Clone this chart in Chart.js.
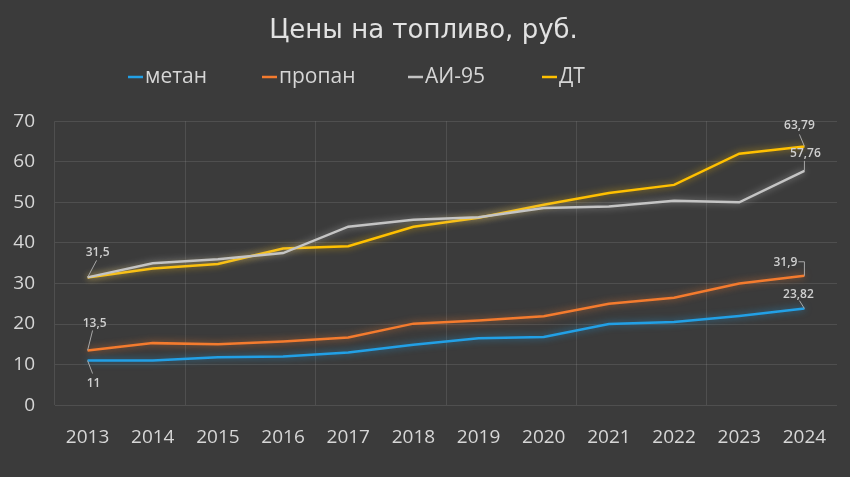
<!DOCTYPE html>
<html>
<head>
<meta charset="utf-8">
<script src="https://cdn.jsdelivr.net/npm/chart.js@4"></script>
<style>
  html, body { margin: 0; padding: 0; background: #3b3b3b; }
  #wrap { width: 850px; height: 477px; }
</style>
</head>
<body>
<div id="wrap"><canvas id="fuelChart"></canvas></div>
<script>
const years = ['2013', '2014', '2015', '2016', '2017', '2018', '2019', '2020', '2021', '2022', '2023', '2024'];
const metan  = [11, 11, 11.8, 12, 13, 14.9, 16.5, 16.8, 20, 20.5, 22, 23.82];
const propan = [13.5, 15.3, 15, 15.7, 16.7, 20.1, 20.9, 21.9, 25, 26.5, 30, 31.9];
const ai95   = [31.5, 35, 36, 37.5, 44, 45.7, 46.3, 48.6, 49, 50.4, 50, 57.76];
const dt     = [31.5, 33.7, 34.8, 38.6, 39.2, 44, 46.2, 49.4, 52.3, 54.3, 62, 63.79];
const seriesNames = ['метан', 'пропан', 'АИ-95', 'ДТ'];
const yTicks = [0, 10, 20, 30, 40, 50, 60, 70];

const colors = ['#22a0e6', '#f47b2e', '#c4c4c4', '#ffc000'];
const textColor = '#d6d6d6';

// which points get a value label, and where the text sits relative to the point
const pointLabels = [
  { ds: 0, i: 0,  dx: 6,   dy: 23,  path: [[5, 13]] },
  { ds: 1, i: 0,  dx: 7,   dy: -27, path: [[5, -20]] },
  { ds: 3, i: 0,  dx: 10,  dy: -25, path: [[9, -17]] },
  { ds: 0, i: 11, dx: -6,  dy: -14, path: [[-5, -8]] },
  { ds: 1, i: 11, dx: -19, dy: -13, path: [[0, -14], [-6, -14]] },
  { ds: 2, i: 11, dx: 1,   dy: -17, path: [[0, -10]] },
  { ds: 3, i: 11, dx: -5,  dy: -21, path: [[-5, -12]] }
];

const glow = {
  id: 'glow',
  beforeDatasetDraw(chart, args) {
    const ctx = chart.ctx;
    ctx.save();
    ctx.shadowColor = chart.data.datasets[args.index].borderColor + 'aa';
    ctx.shadowBlur = 7;
  },
  afterDatasetDraw(chart) {
    chart.ctx.restore();
  }
};

const valueLabels = {
  id: 'valueLabels',
  afterDatasetsDraw(chart) {
    const ctx = chart.ctx;
    ctx.save();
    ctx.font = '600 12px "Open Sans"';
    ctx.textAlign = 'center';
    ctx.textBaseline = 'middle';
    pointLabels.forEach(l => {
      const pt = chart.getDatasetMeta(l.ds).data[l.i];
      const v = chart.data.datasets[l.ds].data[l.i];
      ctx.strokeStyle = '#a8a8a8';
      ctx.lineWidth = 1;
      ctx.beginPath();
      ctx.moveTo(pt.x, pt.y);
      l.path.forEach(p => ctx.lineTo(pt.x + p[0], pt.y + p[1]));
      ctx.stroke();
      ctx.fillStyle = '#cfcfcf';
      ctx.fillText(String(v).replace('.', ','), pt.x + l.dx, pt.y + l.dy);
    });
    ctx.restore();
  }
};

const lineLegend = {
  id: 'lineLegend',
  afterDraw(chart) {
    const ctx = chart.ctx;
    ctx.save();
    ctx.font = '21px "Open Sans"';
    ctx.textBaseline = 'middle';
    const starts = [128, 262, 408, 542];
    const y = 77;
    chart.data.datasets.forEach((ds, k) => {
      const x = starts[k];
      ctx.strokeStyle = ds.borderColor;
      ctx.lineWidth = 2.5;
      ctx.beginPath();
      ctx.moveTo(x, y);
      ctx.lineTo(x + 15, y);
      ctx.stroke();
      ctx.fillStyle = textColor;
      ctx.fillText(ds.label, x + 17, y);
    });
    ctx.restore();
  }
};

const gridColor = 'rgba(255,255,255,0.1)';

new Chart(document.getElementById('fuelChart'), {
  type: 'line',
  data: {
    labels: years,
    datasets: [metan, propan, ai95, dt].map((d, k) => ({
      label: seriesNames[k],
      data: d,
      borderColor: colors[k],
      backgroundColor: colors[k],
      borderWidth: 2.5,
      pointRadius: 0,
      tension: 0
    }))
  },
  options: {
    responsive: true,
    maintainAspectRatio: false,
    animation: false,
    layout: { padding: { left: 10, right: 13, bottom: 7 } },
    plugins: {
      legend: { display: false },
      tooltip: { enabled: false },
      title: {
        display: true,
        text: 'Цены на топливо, руб.',
        color: '#e2e2e2',
        font: { family: '"DejaVu Sans"', size: 26, weight: 'normal' },
        padding: { top: 16, bottom: 74 }
      }
    },
    scales: {
      x: {
        offset: true,
        grid: {
          offset: true,
          drawTicks: false,
          color: ctx => (ctx.index % 2 === 0 ? gridColor : 'transparent')
        },
        border: { display: false },
        ticks: { color: textColor, font: { family: '"Open Sans"', size: 19 }, padding: 21 }
      },
      y: {
        min: 0,
        max: 70,
        afterBuildTicks: s => { s.ticks = yTicks.map(v => ({ value: v })); },
        afterFit: s => { s.width = 45; },
        grid: { drawTicks: false, color: gridColor },
        border: { display: false },
        ticks: { color: textColor, font: { family: '"Open Sans"', size: 19 }, padding: 20 }
      }
    }
  },
  plugins: [glow, valueLabels, lineLegend]
});
</script>
</body>
</html>
